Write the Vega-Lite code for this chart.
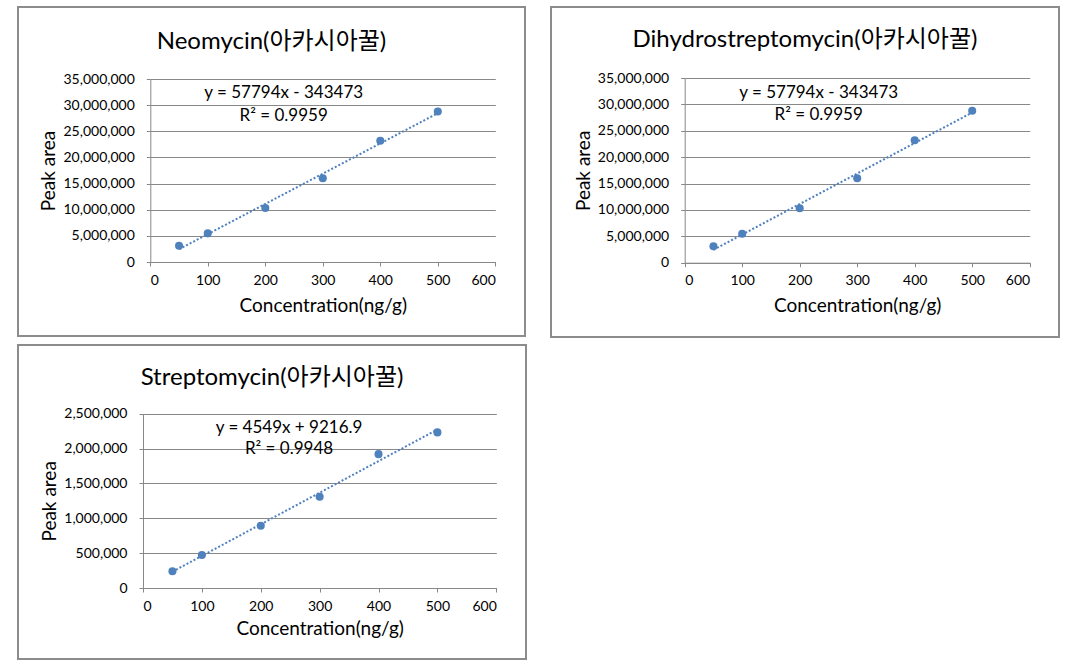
{
  "$schema": "https://vega.github.io/schema/vega-lite/v6.json",
  "padding": {"left": 17, "top": 6, "right": 0, "bottom": 0},
  "background": "white",
  "datasets": {
    "neo": [
      {"conc": 50, "area": 3120000},
      {"conc": 100, "area": 5480000},
      {"conc": 200, "area": 10330000},
      {"conc": 300, "area": 16000000},
      {"conc": 400, "area": 23200000},
      {"conc": 500, "area": 28800000}
    ],
    "dhs": [
      {"conc": 50, "area": 3120000},
      {"conc": 100, "area": 5480000},
      {"conc": 200, "area": 10330000},
      {"conc": 300, "area": 16000000},
      {"conc": 400, "area": 23200000},
      {"conc": 500, "area": 28800000}
    ],
    "strep": [
      {"conc": 50, "area": 239000},
      {"conc": 100, "area": 473000},
      {"conc": 200, "area": 894000},
      {"conc": 300, "area": 1310000},
      {"conc": 400, "area": 1920000},
      {"conc": 500, "area": 2232000}
    ]
  },
  "vconcat": [
    {
      "hconcat": [
        {
          "width": 507,
          "height": 329,
          "data": {"name": "neo"},
          "title": {"text": "Neomycin(아카시아꿀)", "offset": -47, "frame": "group"},
          "encoding": {
            "x": {"field": "conc", "type": "quantitative", "scale": {"domain": [0, 600], "range": [132.3, 477.3], "nice": false},
              "axis": {"title": "Concentration(ng/g)", "values": [0, 100, 200, 300, 400, 500, 600], "offset": -74, "grid": false}},
            "y": {"field": "area", "type": "quantitative", "scale": {"domain": [0, 35000000], "range": [255, 72], "nice": false},
              "axis": {"title": "Peak area", "values": [0, 5000000, 10000000, 15000000, 20000000, 25000000, 30000000, 35000000], "format": ",.0f", "offset": -132.3, "grid": true}}
          },
          "layer": [
            {"transform": [{"regression": "area", "on": "conc"}], "mark": {"type": "line", "color": "#4F81BD", "strokeDash": [2, 2], "strokeWidth": 2}},
            {"mark": {"type": "circle", "size": 65, "color": "#4F81BD", "opacity": 1}},
            {"transform": [{"filter": "datum.conc == 50"}], "mark": {"type": "text", "font": "Lato", "fontSize": 17, "fontWeight": 400, "color": "#000"}, "encoding": {"x": {"datum": 232}, "y": {"datum": 32300000}, "text": {"value": "y = 57794x - 343473"}}},
            {"transform": [{"filter": "datum.conc == 50"}], "mark": {"type": "text", "font": "Lato", "fontSize": 17, "fontWeight": 400, "color": "#000"}, "encoding": {"x": {"datum": 232}, "y": {"datum": 27900000}, "text": {"value": "R² = 0.9959"}}}
          ]
        },
        {
          "width": 508,
          "height": 330,
          "data": {"name": "dhs"},
          "title": {"text": "Dihydrostreptomycin(아카시아꿀)", "offset": -45, "frame": "group"},
          "encoding": {
            "x": {"field": "conc", "type": "quantitative", "scale": {"domain": [0, 600], "range": [133.7, 478.7], "nice": false},
              "axis": {"title": "Concentration(ng/g)", "values": [0, 100, 200, 300, 400, 500, 600], "offset": -74.3, "grid": false}},
            "y": {"field": "area", "type": "quantitative", "scale": {"domain": [0, 35000000], "range": [255.7, 71], "nice": false},
              "axis": {"title": "Peak area", "values": [0, 5000000, 10000000, 15000000, 20000000, 25000000, 30000000, 35000000], "format": ",.0f", "offset": -133.7, "grid": true}}
          },
          "layer": [
            {"transform": [{"regression": "area", "on": "conc"}], "mark": {"type": "line", "color": "#4F81BD", "strokeDash": [2, 2], "strokeWidth": 2}},
            {"mark": {"type": "circle", "size": 65, "color": "#4F81BD", "opacity": 1}},
            {"transform": [{"filter": "datum.conc == 50"}], "mark": {"type": "text", "font": "Lato", "fontSize": 17, "fontWeight": 400, "color": "#000"}, "encoding": {"x": {"datum": 233}, "y": {"datum": 32200000}, "text": {"value": "y = 57794x - 343473"}}},
            {"transform": [{"filter": "datum.conc == 50"}], "mark": {"type": "text", "font": "Lato", "fontSize": 17, "fontWeight": 400, "color": "#000"}, "encoding": {"x": {"datum": 233}, "y": {"datum": 27900000}, "text": {"value": "R² = 0.9959"}}}
          ]
        }
      ],
      "spacing": 24
    },
    {
      "width": 508,
      "height": 314,
      "data": {"name": "strep"},
      "title": {"text": "Streptomycin(아카시아꿀)", "offset": -45, "frame": "group"},
      "encoding": {
        "x": {"field": "conc", "type": "quantitative", "scale": {"domain": [0, 600], "range": [125, 478.3], "nice": false},
          "axis": {"title": "Concentration(ng/g)", "values": [0, 100, 200, 300, 400, 500, 600], "offset": -71, "grid": false, "titlePadding": 6}},
        "y": {"field": "area", "type": "quantitative", "scale": {"domain": [0, 2500000], "range": [243, 68.7], "nice": false},
          "axis": {"title": "Peak area", "values": [0, 500000, 1000000, 1500000, 2000000, 2500000], "format": ",.0f", "offset": -125, "grid": true}}
      },
      "layer": [
        {"transform": [{"regression": "area", "on": "conc"}], "mark": {"type": "line", "color": "#4F81BD", "strokeDash": [2, 2], "strokeWidth": 2}},
        {"mark": {"type": "circle", "size": 65, "color": "#4F81BD", "opacity": 1}},
        {"transform": [{"filter": "datum.conc == 50"}], "mark": {"type": "text", "font": "Lato", "fontSize": 17, "fontWeight": 400, "color": "#000"}, "encoding": {"x": {"datum": 248}, "y": {"datum": 2295000}, "text": {"value": "y = 4549x + 9216.9"}}},
        {"transform": [{"filter": "datum.conc == 50"}], "mark": {"type": "text", "font": "Lato", "fontSize": 17, "fontWeight": 400, "color": "#000"}, "encoding": {"x": {"datum": 248}, "y": {"datum": 1994000}, "text": {"value": "R² = 0.9948"}}}
      ]
    }
  ],
  "spacing": 6,
  "config": {
    "font": "Lato, Noto Sans CJK KR",
    "view": {"stroke": "#8c8c8c", "strokeWidth": 2},
    "title": {"fontSize": 24, "fontWeight": "normal", "color": "#000", "font": "Lato, Noto Sans CJK KR", "anchor": "middle"},
    "axis": {
      "domainColor": "#888888",
      "tickColor": "#888888",
      "gridColor": "#888888",
      "gridWidth": 1,
      "domainWidth": 1,
      "tickWidth": 1,
      "tickSize": 4,
      "labelFontSize": 14,
      "labelColor": "#000",
      "labelFont": "Lato",
      "titleFont": "Lato",
      "titleFontSize": 19,
      "titleFontWeight": "normal",
      "titleColor": "#000"
    },
    "axisX": {"labelPadding": 7, "titlePadding": 9},
    "axisY": {"labelPadding": 12, "titlePadding": 4}
  }
}
